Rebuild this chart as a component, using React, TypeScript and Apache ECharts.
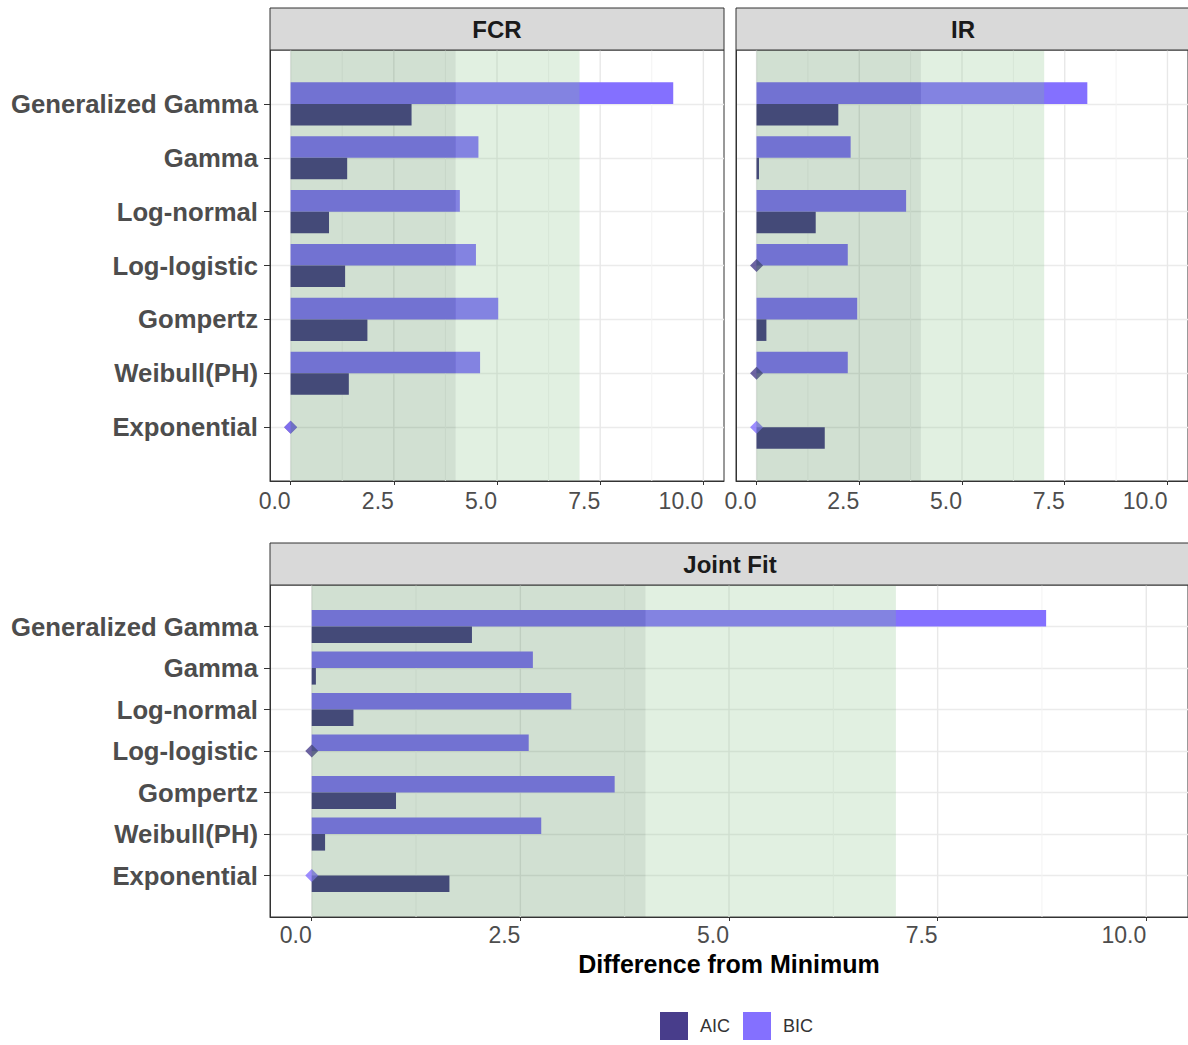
import React, { useEffect, useRef } from 'react';
import * as echarts from 'echarts';

const categories = ['Generalized Gamma', 'Gamma', 'Log-normal', 'Log-logistic', 'Gompertz', 'Weibull(PH)', 'Exponential'];
const fcrAIC = [2.93, 1.37, 0.93, 1.32, 1.86, 1.41, 0];
const fcrBIC = [9.27, 4.55, 4.10, 4.49, 5.03, 4.59, 0];
const irAIC = [1.99, 0.06, 1.44, 0, 0.24, 0, 1.66];
const irBIC = [8.05, 2.29, 3.64, 2.22, 2.45, 2.22, 0];
const jointAIC = [1.92, 0.05, 0.50, 0, 1.01, 0.16, 1.65];
const jointBIC = [8.80, 2.65, 3.11, 2.60, 3.63, 2.75, 0];
const xTicks = [0, 2.5, 5, 7.5, 10];
const xMinorTicks = [1.25, 3.75, 6.25, 8.75];
const zoneBounds = [[0, 4], [4, 7]];
const legendNames = ['AIC', 'BIC'];

const AIC_COLOR = '#483d8b';
const BIC_COLOR = '#8470ff';
const ZONE_COLORS = ['rgba(56,121,60,0.23)', 'rgba(128,193,128,0.24)'];
const FONT = '"Liberation Sans", Arial, Helvetica, sans-serif';
const STRIP_H = 42;

const panels = [
  { title: 'FCR', aic: fcrAIC, bic: fcrBIC, left: 270, top: 50, width: 454, height: 431, yLabels: true, xName: '' },
  { title: 'IR', aic: irAIC, bic: irBIC, left: 736, top: 50, width: 454, height: 431, yLabels: false, xName: '' },
  { title: 'Joint Fit', aic: jointAIC, bic: jointBIC, left: 270, top: 585, width: 920, height: 332, yLabels: true, xName: 'Difference from Minimum' },
];

const catIdx = categories.map((_, i) => i);

function barRenderer(upper: boolean) {
  return (params: any, api: any) => {
    const v = api.value(0);
    const c = api.value(1);
    const p0 = api.coord([0, c]);
    const p1 = api.coord([v, c]);
    const h = api.size([0, 1])[1] * 0.4;
    return {
      type: 'rect',
      shape: { x: p0[0], y: upper ? p0[1] - h : p0[1], width: p1[0] - p0[0], height: h },
      style: { fill: api.visual('color') },
    };
  };
}

function zoneRenderer(params: any, api: any) {
  const a = api.coord([api.value(0), 0]);
  const b = api.coord([api.value(1), 0]);
  const cs = params.coordSys;
  return {
    type: 'rect',
    shape: { x: a[0], y: cs.y + 0.5, width: b[0] - a[0], height: cs.height - 1 },
    style: { fill: ZONE_COLORS[params.dataIndex] },
  };
}

function gridLineRenderer(params: any, api: any) {
  const x = api.coord([api.value(0), 0])[0];
  const minor = api.value(1) === 1;
  const cs = params.coordSys;
  return {
    type: 'line',
    shape: { x1: x, y1: cs.y, x2: x, y2: cs.y + cs.height },
    style: { stroke: minor ? '#f3f3f3' : '#e8e8e8', lineWidth: minor ? 1 : 1.4 },
  };
}

export default function App() {
  const ref = useRef<HTMLDivElement>(null);
  useEffect(() => {
    document.body.style.margin = '0';
    if (!ref.current) return;
    const chart = echarts.init(ref.current, undefined, { renderer: 'svg' });

    const grid: any[] = [];
    const xAxis: any[] = [];
    const yAxis: any[] = [];
    const series: any[] = [];
    const graphic: any[] = [];

    panels.forEach((p, gi) => {
      grid.push({
        left: p.left, top: p.top, width: p.width, height: p.height,
        show: true, borderColor: '#333333', borderWidth: 1, backgroundColor: '#ffffff',
      });
      xAxis.push({
        gridIndex: gi, type: 'value', min: -0.5, max: 10.5,
        axisLine: { show: true, onZero: false, lineStyle: { color: '#333333', width: 1 } },
        axisTick: { show: true, customValues: xTicks, length: 4, lineStyle: { color: '#333333' } },
        axisLabel: {
          customValues: xTicks, formatter: (v: number) => v.toFixed(1), align: 'right',
          fontSize: 23, color: '#4d4d4d', fontFamily: FONT, margin: gi < 2 ? 8 : 6,
        },
        splitLine: { show: false },
        name: p.xName, nameLocation: 'middle', nameGap: 34,
        nameTextStyle: { fontSize: 25, fontWeight: 'bold', color: '#000000', fontFamily: FONT },
      });
      yAxis.push({
        gridIndex: gi, type: 'value', min: -1, max: 7, interval: 1, inverse: true,
        axisLine: { show: true, onZero: false, lineStyle: { color: '#333333', width: 1 } },
        axisTick: { show: p.yLabels, customValues: catIdx, length: 6, lineStyle: { color: '#333333' } },
        axisLabel: {
          show: p.yLabels, customValues: catIdx, formatter: (v: number) => categories[v] ?? '',
          fontSize: 25.7, fontWeight: 'bold', color: '#4d4d4d', fontFamily: FONT, margin: 12,
          padding: [3, 0, 0, 0],
        },
        splitLine: { show: true, lineStyle: { color: '#ebebeb', width: 1.4 } },
      });

      series.push({
        type: 'custom', name: 'grid' + gi, xAxisIndex: gi, yAxisIndex: gi, silent: true, z: 1,
        data: [...xTicks.map((t) => [t, 0]), ...xMinorTicks.map((t) => [t, 1])],
        renderItem: gridLineRenderer,
      });
      series.push({
        type: 'custom', name: 'BIC', xAxisIndex: gi, yAxisIndex: gi, z: 2,
        itemStyle: { color: BIC_COLOR },
        data: p.bic.map((v, i) => [v, i]),
        encode: { x: 0, y: 1 },
        renderItem: barRenderer(true),
      });
      series.push({
        type: 'custom', name: 'AIC', xAxisIndex: gi, yAxisIndex: gi, z: 2,
        itemStyle: { color: AIC_COLOR },
        data: p.aic.map((v, i) => [v, i]),
        encode: { x: 0, y: 1 },
        renderItem: barRenderer(false),
      });
      series.push({
        type: 'scatter', name: 'AIC', xAxisIndex: gi, yAxisIndex: gi, z: 3,
        symbol: 'diamond', symbolSize: 13, itemStyle: { color: AIC_COLOR },
        data: p.aic.map((v, i) => [v, i]).filter((d) => d[0] === 0),
      });
      series.push({
        type: 'scatter', name: 'BIC', xAxisIndex: gi, yAxisIndex: gi, z: 3,
        symbol: 'diamond', symbolSize: 13, itemStyle: { color: BIC_COLOR },
        data: p.bic.map((v, i) => [v, i]).filter((d) => d[0] === 0),
      });
      series.push({
        type: 'custom', name: 'zones' + gi, xAxisIndex: gi, yAxisIndex: gi, silent: true, z: 5,
        data: zoneBounds, renderItem: zoneRenderer,
      });

      graphic.push({
        type: 'rect', z: 10,
        shape: { x: p.left, y: p.top - STRIP_H, width: p.width, height: STRIP_H },
        style: { fill: '#d9d9d9', stroke: '#333333', lineWidth: 1 },
      });
      graphic.push({
        type: 'text', z: 11,
        x: p.left + p.width / 2, y: p.top - STRIP_H / 2,
        style: {
          text: p.title, align: 'center', verticalAlign: 'middle',
          font: `bold 24px ${FONT}`, fill: '#1a1a1a',
        },
      });
    });

    chart.setOption({
      animation: false,
      backgroundColor: '#ffffff',
      textStyle: { fontFamily: FONT },
      grid, xAxis, yAxis, series, graphic,
      legend: {
        data: legendNames, left: 655, top: 1007, orient: 'horizontal',
        icon: 'rect', itemWidth: 28, itemHeight: 28, itemGap: 13,
        selectedMode: false,
        textStyle: { fontSize: 18, color: '#333333', fontFamily: FONT, padding: [0, 0, 0, 7] },
      },
    });
    return () => chart.dispose();
  }, []);
  return <div ref={ref} style={{ width: 1188, height: 1045 }} />;
}
